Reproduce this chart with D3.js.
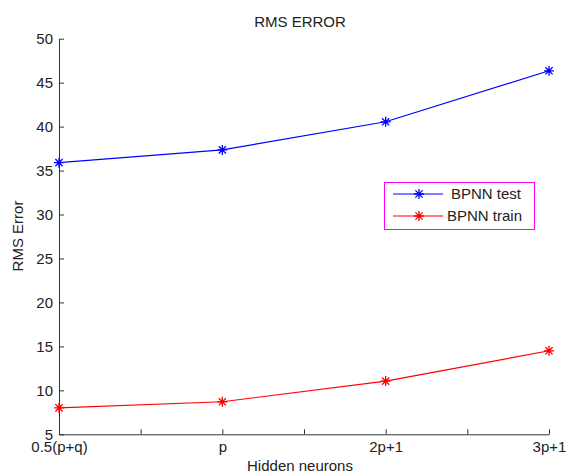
<!DOCTYPE html>
<html><head><meta charset="utf-8">
<script src="https://cdn.jsdelivr.net/npm/d3@7"></script>
<style>body{margin:0;background:#fff}svg{font-family:"Liberation Sans",Arial,sans-serif}</style>
</head><body>
<svg id="c" width="566" height="473"></svg>
<script>
const categories = ["0.5(p+q)", "p", "2p+1", "3p+1"];
const categoryPositions = [0, 2, 4, 6];
const testValues = [35.9, 37.35, 40.55, 46.35];
const trainValues = [8.0, 8.7, 11.05, 14.5];
const yTicks = [5, 10, 15, 20, 25, 30, 35, 40, 45, 50];
const xTicks = [0, 1, 2, 3, 4, 5, 6];
const seriesNames = ["BPNN test", "BPNN train"];

const FS = "15px";
const svg = d3.select("#c");
const x = d3.scaleLinear().domain([0, 6]).range([59, 549]);
const y = d3.scaleLinear().domain([5, 50]).range([434.3, 38.7]);

// axes
const gx = svg.append("g").attr("transform", "translate(0,434.3)")
  .call(d3.axisBottom(x).tickValues(xTicks).tickSizeInner(-5).tickSizeOuter(0)
    .tickFormat(d => { const i = categoryPositions.indexOf(d); return i >= 0 ? categories[i] : ""; }));
gx.selectAll("text").attr("dy", null).attr("y", 18).style("font-size", FS).attr("fill", "#222");
const gy = svg.append("g").attr("transform", "translate(59,0)")
  .call(d3.axisLeft(y).tickValues(yTicks).tickSizeInner(-5).tickSizeOuter(0));
gy.selectAll("text").attr("x", -6).style("font-size", FS).attr("fill", "#222");
svg.selectAll(".domain").attr("stroke", "#333");
svg.selectAll(".tick line").attr("stroke", "#333");
svg.selectAll(".tick text").attr("font-family", "Liberation Sans, Arial, sans-serif");

// title and labels
svg.append("text").attr("x", 300).attr("y", 27).attr("text-anchor", "middle")
  .style("font-size", FS).attr("fill", "#222").text("RMS ERROR");
svg.append("text").attr("x", 300).attr("y", 471).attr("text-anchor", "middle")
  .style("font-size", FS).attr("fill", "#222").text("Hidden neurons");
svg.append("text").attr("transform", "translate(23,236) rotate(-90)").attr("text-anchor", "middle")
  .style("font-size", FS).attr("fill", "#222").text("RMS Error");

function star(g, cx, cy, color) {
  const r = 5, d = 3.6;
  const p = d3.path();
  p.moveTo(cx - r, cy); p.lineTo(cx + r, cy);
  p.moveTo(cx, cy - r); p.lineTo(cx, cy + r);
  p.moveTo(cx - d, cy - d); p.lineTo(cx + d, cy + d);
  p.moveTo(cx - d, cy + d); p.lineTo(cx + d, cy - d);
  g.append("path").attr("d", p.toString()).attr("stroke", color).attr("stroke-width", 1.3).attr("fill", "none");
}

const line = d3.line().x((d, i) => x(categoryPositions[i])).y(d => y(d));
[[testValues, "#0000ff"], [trainValues, "#ff0000"]].forEach(([vals, col]) => {
  svg.append("path").attr("d", line(vals)).attr("stroke", col).attr("stroke-width", 1.2).attr("fill", "none");
  const g = svg.append("g");
  vals.forEach((v, i) => star(g, x(categoryPositions[i]), y(v), col));
});

// legend
const lg = svg.append("g");
lg.append("rect").attr("x", 384.5).attr("y", 182.5).attr("width", 150).attr("height", 47)
  .attr("fill", "#fff").attr("stroke", "#ff00ff").attr("stroke-width", 1);
const legCols = ["#0000ff", "#ff0000"];
seriesNames.forEach((n, i) => {
  const yy = 194 + i * 22;
  lg.append("line").attr("x1", 393).attr("x2", 443).attr("y1", yy).attr("y2", yy)
    .attr("stroke", legCols[i]).attr("stroke-width", 1.2);
  star(lg, 419, yy, legCols[i]);
  lg.append("text").attr("x", i === 0 ? 451 : 447).attr("y", yy + 5)
    .style("font-size", FS).attr("fill", "#222").text(n);
});
</script>
</body></html>
